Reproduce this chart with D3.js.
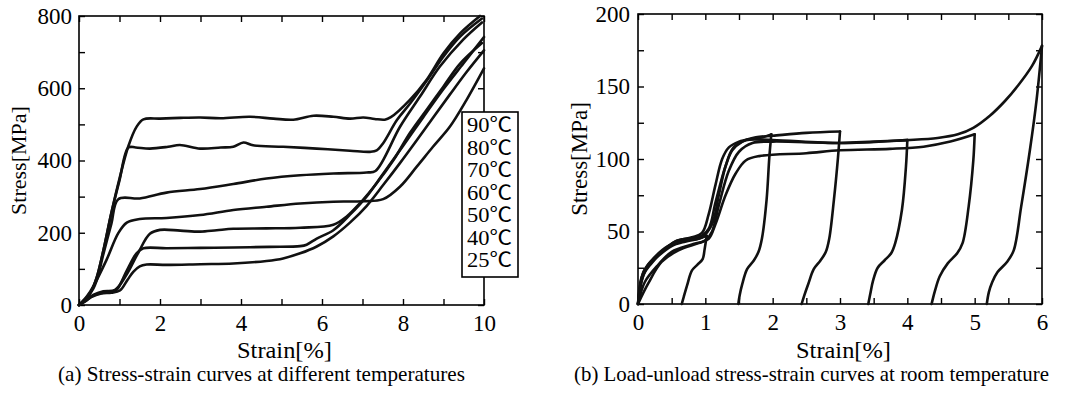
<!DOCTYPE html>
<html>
<head>
<meta charset="utf-8">
<script src="https://cdn.jsdelivr.net/npm/d3@7"></script>
<style>
  html, body { margin: 0; padding: 0; background: #fff; }
  svg { display: block; }
  text { font-family: "Liberation Serif", "Times New Roman", "Noto Sans CJK SC", serif; fill: #000; }
</style>
</head>
<body>
<svg id="chart" width="1066" height="395"></svg>
<script>
// ---------------- DATA ----------------
// Panel (a): stress-strain at different temperatures, [strain %, stress MPa]
const tempLabels = ["90℃", "80℃", "70℃", "60℃", "50℃", "40℃", "25℃"];
const curve90 = [[0,0],[0.15,15],[0.3,38],[0.44,77],[0.6,150],[0.8,255],[1.0,350],[1.22,440],[1.42,493],[1.59,514],[2.0,516],[2.5,518],[2.99,519],[3.5,517],[4.22,521],[4.8,516],[5.29,513],[5.79,524],[6.28,521],[6.69,516],[7.02,519],[7.3,515],[7.55,513],[7.7,520],[8.17,568],[8.58,623],[9.0,697],[9.41,752],[9.9,800]];
const curve80 = [[0,0],[0.15,15],[0.3,38],[0.44,77],[0.6,150],[0.8,255],[1.0,345],[1.22,436],[1.4,436],[1.75,433],[2.2,438],[2.49,443],[2.99,433],[3.5,436],[3.81,438],[4.06,450],[4.3,442],[5.04,438],[5.87,433],[6.69,427],[7.19,424],[7.35,428],[7.51,448],[7.85,512],[8.17,557],[8.58,620],[9.0,688],[9.41,743],[9.95,793]];
const curve70 = [[0,0],[0.2,22],[0.35,45],[0.44,69],[0.6,140],[0.8,225],[0.97,293],[1.5,295],[2.16,311],[2.99,321],[3.81,335],[4.63,350],[5.46,359],[6.28,364],[7.1,367],[7.32,371],[7.93,494],[8.42,577],[8.91,660],[9.48,734],[9.95,782]];
const curve60 = [[0,0],[0.2,25],[0.35,51],[0.68,125],[0.97,199],[1.18,228],[1.5,238],[2.16,241],[2.99,249],[3.81,263],[4.63,272],[5.46,281],[6.28,286],[7.01,287],[7.51,293],[7.93,328],[8.34,383],[8.74,438],[9.16,494],[9.57,568],[10,655]];
const curve50 = [[0,0],[0.15,12],[0.35,28],[0.6,38],[0.89,42],[1.18,85],[1.46,144],[1.75,197],[2.0,208],[2.5,206],[2.99,203],[3.4,207],[3.81,211],[4.63,212],[5.46,214],[6.28,222],[6.61,245],[6.94,282],[7.35,337],[7.77,402],[8.17,476],[8.58,540],[9.0,605],[9.41,668],[9.95,725]];
const curve40 = [[0,0],[0.15,10],[0.35,26],[0.6,34],[0.8,36],[0.93,42],[1.18,95],[1.42,143],[1.59,157],[2.16,157],[3.0,158],[3.81,159],[4.7,161],[5.46,163],[5.62,167],[5.87,184],[6.28,207],[6.69,250],[7.1,300],[7.5,362],[8.0,440],[8.5,520],[9.0,598],[9.5,670],[10,742]];
const curve25 = [[0,0],[0.12,8],[0.3,22],[0.55,32],[0.8,34],[1.01,40],[1.2,70],[1.34,92],[1.5,107],[1.67,112],[2.16,111],[3.0,113],[3.81,115],[4.63,122],[5.04,129],[5.46,143],[5.87,162],[6.28,190],[6.69,228],[7.1,274],[7.51,332],[7.92,392],[8.34,456],[8.75,520],[9.16,583],[9.57,645],[10,705]];
const tempCurves = [curve90, curve80, curve70, curve60, curve50, curve40, curve25];

// Panel (b): load-unload cycles at room temperature, [strain %, stress MPa]
const load1 = [[0,0],[0.05,15],[0.12,24],[0.3,33],[0.5,40],[0.7,43],[0.9,45],[1.02,47]];
const load2 = [[0,0],[0.05,18],[0.15,27],[0.35,36],[0.55,43],[0.8,46],[0.95,49],[1.05,62],[1.15,82],[1.25,100],[1.35,108],[1.5,112],[1.7,114],[1.85,115],[1.98,117]];
const load3 = [[0,0],[0.08,20],[0.2,28],[0.4,38],[0.6,44],[0.9,46],[1.05,52],[1.15,70],[1.3,95],[1.4,106],[1.55,112],[1.75,115],[2.0,116],[2.5,118],[3.0,119]];
const load4 = [[0,0],[0.1,15],[0.3,27],[0.5,36],[0.8,41],[1.0,44],[1.1,50],[1.2,68],[1.35,92],[1.5,105],[1.7,111],[2.0,112],[3.0,111],[3.5,112],[4.0,113]];
const load5 = [[0,0],[0.15,14],[0.35,29],[0.6,37],[0.9,42],[1.05,45],[1.15,55],[1.3,75],[1.45,90],[1.6,99],[1.8,102],[2.5,104],[3.0,106],[3.74,107],[4.24,108.5],[4.64,112],[5.0,117]];
const load6 = [[0,0],[0.08,22],[0.2,30],[0.45,40],[0.7,44],[0.95,46],[1.1,55],[1.2,75],[1.3,95],[1.42,108],[1.6,113],[2.0,113],[3.0,111],[3.99,113],[4.45,114.5],[4.75,117],[4.98,121.5],[5.23,130],[5.45,140],[5.65,151],[5.85,164],[6.0,178]];
const unload1 = [[1.02,47],[0.99,38],[0.96,31],[0.88,27],[0.8,23],[0.73,13],[0.68,5],[0.65,0]];
const unload2 = [[1.98,117],[1.95,101],[1.91,72],[1.84,45],[1.79,36],[1.72,30],[1.62,24],[1.55,14],[1.51,6],[1.49,0]];
const unload3 = [[3.0,119],[2.97,101],[2.91,72],[2.84,45],[2.79,36],[2.71,30],[2.61,24],[2.53,14],[2.47,6],[2.43,0]];
const unload4 = [[4.0,113],[3.98,95],[3.92,65],[3.82,42],[3.76,35],[3.66,30],[3.56,25],[3.49,16],[3.45,7],[3.42,0]];
const unload5 = [[5.0,117],[4.98,99],[4.91,67],[4.82,42],[4.74,35],[4.6,28],[4.48,19],[4.41,9],[4.36,0]];
const unload6 = [[6.0,178],[5.92,141],[5.82,106],[5.69,67],[5.58,37],[5.48,29],[5.34,22],[5.26,15],[5.21,8],[5.18,0]];
const cycleCurves = [load1, unload1, load2, unload2, load3, unload3, load4, unload4, load5, unload5, load6, unload6];

// Axis tick values / labels
const xTicksA = d3.range(0, 11, 1);
const xLabelsA = [0, 2, 4, 6, 8, 10];
const yTicksA = d3.range(0, 801, 100);
const yLabelsA = [0, 200, 400, 600, 800];
const xTicksB = d3.range(0, 6.01, 0.5);
const xLabelsB = [0, 1, 2, 3, 4, 5, 6];
const yTicksB = d3.range(0, 201, 25);
const yLabelsB = [0, 50, 100, 150, 200];

const xTitle = "Strain[%]";
const yTitle = "Stress[MPa]";
const captionA = "(a) Stress-strain curves at different temperatures";
const captionB = "(b) Load-unload stress-strain curves at room temperature";

// ---------------- DRAW ----------------
const svg = d3.select("#chart");
svg.append("rect").attr("width", 1066).attr("height", 395).attr("fill", "#fff");

function panel(opts) {
  const x = d3.scaleLinear().domain(opts.xDomain).range([opts.left, opts.right]);
  const y = d3.scaleLinear().domain(opts.yDomain).range([opts.bottom, opts.top]);
  const g = svg.append("g");
  const fmtX = d => opts.xLabels.some(v => Math.abs(v - d) < 1e-9) ? d3.format("d")(d) : "";
  const fmtY = d => opts.yLabels.some(v => Math.abs(v - d) < 1e-9) ? d3.format("d")(d) : "";
  const tickLen = 6;

  const styleAxis = (sel, size) => {
    sel.attr("font-family", null);
    sel.select(".domain").remove();
    sel.selectAll("line").attr("stroke", "#000").attr("stroke-width", 1.4);
    sel.selectAll("text").attr("font-size", size).attr("fill", "#000")
      .style("font-family", '"Liberation Serif", "Times New Roman", serif');
  };

  g.append("g").attr("transform", `translate(0,${opts.bottom})`)
    .call(d3.axisBottom(x).tickValues(opts.xTicks).tickSizeInner(-tickLen).tickSizeOuter(0).tickPadding(10).tickFormat(fmtX))
    .call(s => styleAxis(s, 23));
  g.append("g").attr("transform", `translate(0,${opts.top})`)
    .call(d3.axisTop(x).tickValues(opts.xTicks).tickSizeInner(-tickLen).tickSizeOuter(0).tickFormat(""))
    .call(s => styleAxis(s, 23));
  g.append("g").attr("transform", `translate(${opts.left},0)`)
    .call(d3.axisLeft(y).tickValues(opts.yTicks).tickSizeInner(-tickLen).tickSizeOuter(0).tickPadding(opts.yPad).tickFormat(fmtY))
    .call(s => styleAxis(s, 23));
  g.append("g").attr("transform", `translate(${opts.right},0)`)
    .call(d3.axisRight(y).tickValues(opts.yTicks).tickSizeInner(-tickLen).tickSizeOuter(0).tickFormat(""))
    .call(s => styleAxis(s, 23));

  g.append("rect")
    .attr("x", opts.left).attr("y", opts.top)
    .attr("width", opts.right - opts.left).attr("height", opts.bottom - opts.top)
    .attr("fill", "none").attr("stroke", "#000").attr("stroke-width", 1.6);

  const line = d3.line().x(d => x(d[0])).y(d => y(d[1])).curve(d3.curveCatmullRom.alpha(0.5));
  g.selectAll("path.curve").data(opts.curves).join("path")
    .attr("class", "curve")
    .attr("d", line)
    .attr("fill", "none").attr("stroke", "#111").attr("stroke-width", 2.6)
    .attr("stroke-linejoin", "round").attr("stroke-linecap", "round");

  // axis titles
  g.append("text").attr("x", opts.xTitleX).attr("y", 358)
    .attr("text-anchor", "middle").attr("font-size", 23)
    .attr("textLength", 95).attr("lengthAdjust", "spacingAndGlyphs")
    .text(xTitle);
  g.append("text")
    .attr("transform", `translate(${opts.yTitleX},${(opts.top + opts.bottom) / 2}) rotate(-90)`)
    .attr("text-anchor", "middle").attr("font-size", opts.yTitleSize)
    .text(yTitle);
  g.append("text").attr("x", opts.capX).attr("y", 381)
    .attr("font-size", 21)
    .attr("textLength", opts.capW).attr("lengthAdjust", "spacingAndGlyphs")
    .text(opts.caption);
  return { x, y, g };
}

panel({
  xDomain: [0, 10], yDomain: [0, 800], left: 79, right: 484, top: 16, bottom: 305,
  xTicks: xTicksA, xLabels: xLabelsA, yTicks: yTicksA, yLabels: yLabelsA, yPad: 7,
  curves: tempCurves, xTitleX: 284.5, yTitleX: 26, yTitleSize: 22, capX: 58, capW: 407, caption: captionA
});

panel({
  xDomain: [0, 6], yDomain: [0, 200], left: 638, right: 1042, top: 14, bottom: 304,
  xTicks: xTicksB, xLabels: xLabelsB, yTicks: yTicksB, yLabels: yLabelsB, yPad: 8,
  curves: cycleCurves, xTitleX: 843.5, yTitleX: 587, yTitleSize: 23, capX: 574, capW: 475, caption: captionB
});

// Legend for panel (a)
const legend = svg.append("g");
legend.append("rect").attr("x", 462).attr("y", 112).attr("width", 56).attr("height", 165)
  .attr("fill", "#fff").attr("stroke", "#000").attr("stroke-width", 1.6);
legend.selectAll("text").data(tempLabels).join("text")
  .attr("x", 467).attr("y", (d, i) => 132 + i * 22.5)
  .attr("font-size", 20)
  .attr("textLength", 45).attr("lengthAdjust", "spacingAndGlyphs")
  .style("font-family", '"Liberation Serif", "Noto Sans CJK SC", serif')
  .text(d => d);
</script>
</body>
</html>
